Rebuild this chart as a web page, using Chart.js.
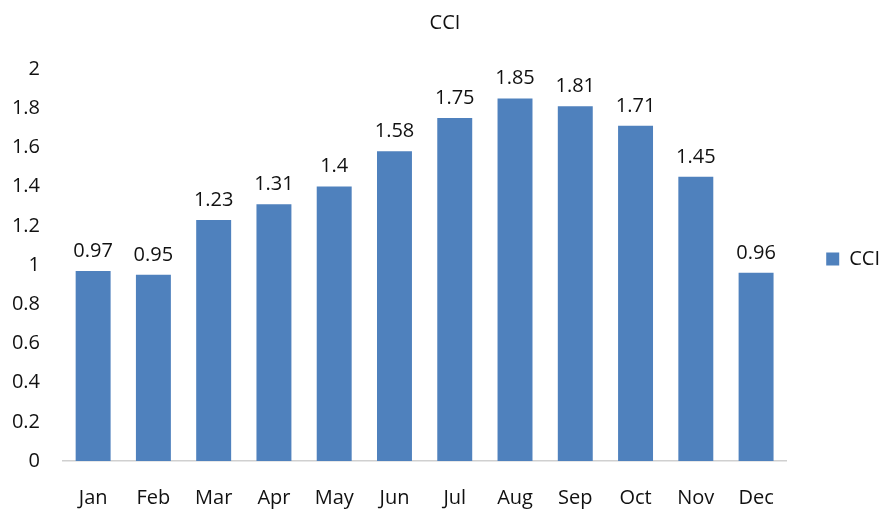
<!DOCTYPE html>
<html>
<head>
<meta charset="utf-8">
<script src="https://cdn.jsdelivr.net/npm/chart.js@4"></script>
<style>
  html, body { margin: 0; padding: 0; background: #fff; }
  #wrap { width: 890px; height: 510px; }
</style>
</head>
<body>
<div id="wrap"><canvas id="chart" width="890" height="510"></canvas></div>
<script>
const months = ["Jan", "Feb", "Mar", "Apr", "May", "Jun", "Jul", "Aug", "Sep", "Oct", "Nov", "Dec"];
const cci = [0.97, 0.95, 1.23, 1.31, 1.4, 1.58, 1.75, 1.85, 1.81, 1.71, 1.45, 0.96];

const color = "#4f81bd";
const font = "'Open Sans', 'Liberation Sans', sans-serif";
const size = 20;

// values above each bar
const barLabels = {
  id: "barLabels",
  afterDatasetsDraw(chart) {
    const ctx = chart.ctx;
    const meta = chart.getDatasetMeta(0);
    ctx.save();
    ctx.font = size + "px " + font;
    ctx.fillStyle = "#111";
    ctx.textAlign = "center";
    ctx.textBaseline = "bottom";
    meta.data.forEach((bar, i) => {
      ctx.fillText(String(cci[i]), bar.x, bar.y - 10);
    });
    ctx.restore();
  },
};

const config = {
  type: "bar",
  data: {
    labels: months,
    datasets: [
      {
        label: "CCI",
        data: cci,
        backgroundColor: color,
        borderColor: color,
        categoryPercentage: 1,
        barPercentage: 0.58,
      },
    ],
  },
  options: {
    responsive: false,
    animation: false,
    layout: { padding: { top: 8, right: 0, left: 0, bottom: 0 } },
    plugins: {
      title: {
        display: true,
        text: "CCI",
        color: "#111",
        font: { family: font, size: size, weight: "normal" },
        padding: { top: 3, bottom: 34 },
      },
      legend: {
        position: "right",
        labels: {
          color: "#111",
          font: { family: font, size: size },
          boxWidth: 13,
          boxHeight: 13,
          padding: 40,
        },
      },
      tooltip: { enabled: false },
    },
    scales: {
      x: {
        grid: { display: false, drawTicks: false },
        border: { display: true, color: "#d0d0d0", width: 1.5 },
        ticks: { color: "#111", font: { family: font, size: size }, padding: 25 },
        afterFit(axis) { axis.height = 49; },
      },
      y: {
        min: 0,
        max: 2,
        grid: { display: false, drawTicks: false },
        border: { display: false },
        ticks: {
          stepSize: 0.2,
          color: "#111",
          font: { family: font, size: size },
          padding: 23,
          callback: (v) => String(Number(v.toFixed(1))),
        },
        afterFit(axis) { axis.width = 63; },
      },
    },
  },
  plugins: [barLabels],
};

window.onload = function () {
  const ctx = document.getElementById("chart").getContext("2d");
  window.chart = new Chart(ctx, config);
};
</script>
</body>
</html>
